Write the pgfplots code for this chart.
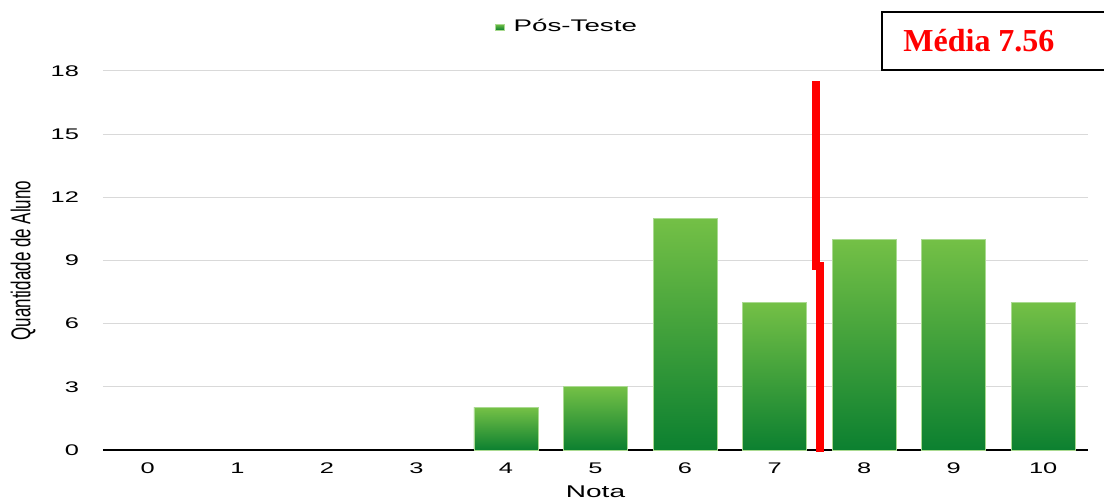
\documentclass[border=0pt]{standalone}
\usepackage{graphicx}
\usepackage{pgfplots}
\pgfplotsset{compat=1.18}
\usepackage{fontspec}
\setmainfont{Liberation Serif}
\newfontfamily\widesans{Liberation Sans}[FakeStretch=1.65]
\newfontfamily\plainsans{Liberation Sans}
\definecolor{bartop}{RGB}{116,192,70}
\definecolor{barbot}{RGB}{12,128,48}
\definecolor{baredge}{RGB}{170,218,145}
\definecolor{gridgray}{RGB}{217,217,217}
\definecolor{meanred}{RGB}{255,0,0}

\begin{document}
\begin{tikzpicture}
\begin{axis}[
  scale only axis, width=492.5pt, height=189.5pt,
  xmin=-0.5, xmax=10.5, ymin=0, ymax=18,
  axis line style={draw=none},
  major tick length=0pt,
  xtick={0,...,10},
  ytick={3,6,...,18},
  extra y ticks={0},
  extra y tick style={grid style={black, line width=0.8pt}},
  ymajorgrids,
  grid style={gridgray, line width=0.5pt},
  ticklabel style={font=\widesans\fontsize{7.7}{9}\selectfont, /pgf/number format/assume math mode=true},
  yticklabel style={xshift=-8.5pt},
  xticklabel style={yshift=-3pt},
  xlabel={\widesans\fontsize{8.5}{10}\selectfont Nota},
  xlabel style={at={(axis description cs:0.5,0)}, anchor=center, yshift=-21pt},
  ylabel={\scalebox{1}[1.6]{\plainsans\fontsize{8.5}{10}\selectfont Quantidade de Aluno}},
  ylabel style={at={(axis description cs:-0.0812,0.5)}, anchor=center},
  legend style={draw=none, fill=none, at={(axis description cs:0.472,1.116)}, anchor=center,
    font=\widesans\fontsize{8.4}{10}\selectfont},
  clip=false,
  gradbar/.style={ybar, bar width=0.714, bar shift=0pt, draw=baredge, line width=0.4pt,
    top color=bartop, bottom color=barbot},
]
% distribution of post-test grades, one shaded bar per grade
\addplot[gradbar,
  legend image code/.code={\fill[top color=bartop, bottom color=barbot] (0pt,-1.5pt) rectangle (4.5pt,1.5pt);}]
  coordinates {(4,2)};
\addlegendentry{\hspace*{2.5pt}Pós-Teste}
\addplot[gradbar, forget plot] coordinates {(5,3)};
\addplot[gradbar, forget plot] coordinates {(6,11)};
\addplot[gradbar, forget plot] coordinates {(7,7)};
\addplot[gradbar, forget plot] coordinates {(8,10)};
\addplot[gradbar, forget plot] coordinates {(9,10)};
\addplot[gradbar, forget plot] coordinates {(10,7)};
% mean marker
\addplot[meanred, line width=4pt, no markers, forget plot] coordinates {(7.467,17.52) (7.467,8.55)};
\addplot[meanred, line width=4pt, no markers, forget plot] coordinates {(7.505,8.93) (7.505,-0.08)};
\end{axis}
\draw[line width=1pt] (510pt,219pt) -- (389.5pt,219pt) -- (389.5pt,190pt) -- (510pt,190pt);
\node[anchor=base west, text=meanred, font=\fontsize{16}{18}\selectfont\bfseries, inner sep=0pt] at (400pt,199pt) {Média 7.56};
\pgfresetboundingbox
\path (-51.5pt,-25.5pt) rectangle (500.5pt,225pt);
\end{tikzpicture}
\end{document}
